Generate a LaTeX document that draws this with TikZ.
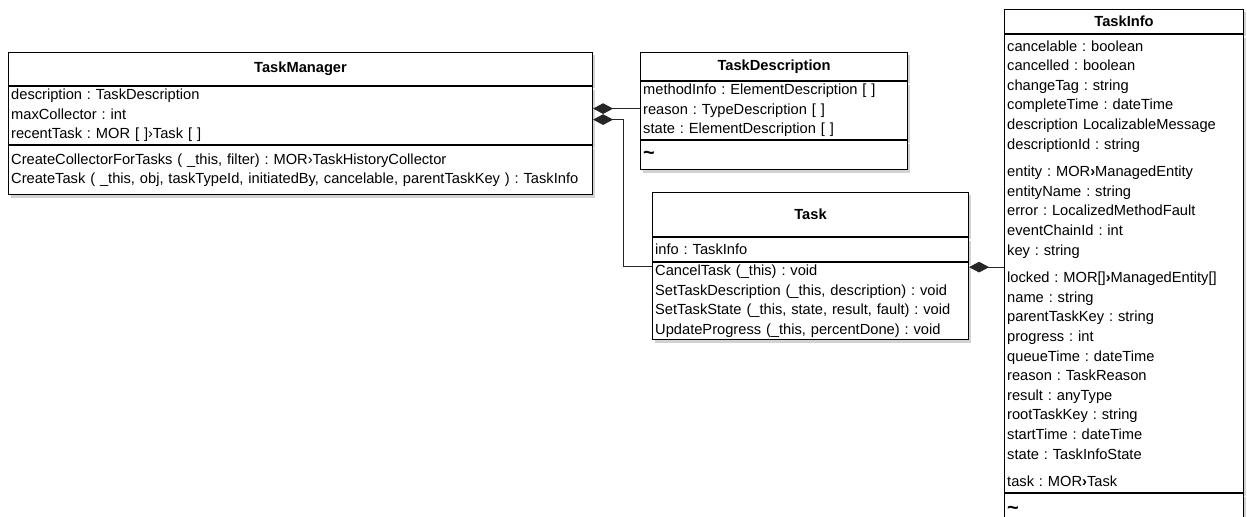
\documentclass[tikz,border=0pt]{standalone}
\usepackage{fontspec}
\setmainfont{Liberation Sans}
\usetikzlibrary{arrows.meta,positioning,calc,shadows}
\newcommand{\dtilde}{{\fontsize{15}{15}\selectfont\bfseries\textasciitilde}}

\begin{document}
\frenchspacing
\begin{tikzpicture}[x=0.75pt, y=-0.75pt,
    font=\fontsize{11}{14.7}\selectfont,
    cls/.style={draw, fill=white, line width=0.8pt, inner xsep=2pt, inner ysep=0pt,
        drop shadow={shadow xshift=2.2pt, shadow yshift=-2.2pt, opacity=0.35}},
    head/.style={cls, anchor=north west, minimum width=#1, font=\fontsize{11}{14.7}\selectfont\bfseries},
    comp/.style={cls, text width=#1, align=left},
    aggr/.style={draw=black!85, line width=0.8pt, arrows={Diamond[length=15pt,width=8pt]-}}
]
    \path[use as bounding box, fill=white] (0,0) rectangle (1247,517);
    \clip (0,0) rectangle (1247,517);

    \node[head=438pt, minimum height=24.75pt] (tmHead) at (8,52) {TaskManager};
    \node[comp=434pt, minimum height=43.5pt, below=0pt of tmHead] (tmAttr) {description : TaskDescription\\maxCollector : int\\recentTask : MOR [ ]›Task [ ]};
    \node[comp=434pt, minimum height=36.75pt, below=0pt of tmAttr] (tmOps) {CreateCollectorForTasks ( \_this, filter) : MOR›TaskHistoryCollector\\CreateTask ( \_this, obj, taskTypeId, initiatedBy, cancelable, parentTaskKey ) : TaskInfo};

    \node[head=200.25pt, minimum height=21pt] (tdHead) at (640,52) {TaskDescription};
    \node[comp=196.25pt, minimum height=43.5pt, below=0pt of tdHead] (tdAttr) {methodInfo : ElementDescription [ ]\\reason : TypeDescription [ ]\\state : ElementDescription [ ]};
    \node[comp=196.25pt, minimum height=21.75pt, below=0pt of tdAttr] (tdOps) {\dtilde};

    \node[head=237pt, minimum height=33pt] (tkHead) at (652,192) {Task};
    \node[comp=233pt, minimum height=18pt, below=0pt of tkHead] (tkInfo) {info : TaskInfo};
    \node[comp=233pt, minimum height=57.75pt, below=0pt of tkInfo] (tkOps) {CancelTask (\_this) : void\\SetTaskDescription (\_this, description) : void\\SetTaskState (\_this, state, result, fault) : void\\UpdateProgress (\_this, percentDone) : void};

    \node[head=179.25pt, minimum height=18pt] (tiHead) at (1004,9) {TaskInfo};
    \node[comp=175.25pt, minimum height=343.5pt, below=0pt of tiHead] (tiAttr) {cancelable : boolean\\cancelled : boolean\\changeTag : string\\completeTime : dateTime\\description LocalizableMessage\\descriptionId : string\\[6pt]
        entity : MOR\textbf{›}ManagedEntity\\entityName : string\\error : LocalizedMethodFault\\eventChainId : int\\key : string\\[6pt]
        locked : MOR[]\textbf{›}ManagedEntity[]\\name : string\\parentTaskKey : string\\progress : int\\queueTime : dateTime\\reason : TaskReason\\result : anyType\\rootTaskKey : string\\startTime : dateTime\\state : TaskInfoState\\[6pt]
        task : MOR\textbf{›}Task};
    \node[comp=175.25pt, minimum height=25.5pt, below=0pt of tiAttr] (tiOps) {\dtilde};

    \coordinate (a1) at ($(tmAttr.east)+(0,-7)$);
    \coordinate (a2) at ($(tmAttr.east)+(0,4)$);
    \coordinate (a3) at ($(tkOps.north east)+(0,5)$);
    \draw[aggr] (a1) -- (a1 -| tdAttr.west);
    \draw[aggr] (a2) -- ++(30,0) |- ($(tkOps.north west)+(0,4)$);
    \draw[aggr] (a3) -- (a3 -| tiAttr.west);
\end{tikzpicture}
\end{document}
